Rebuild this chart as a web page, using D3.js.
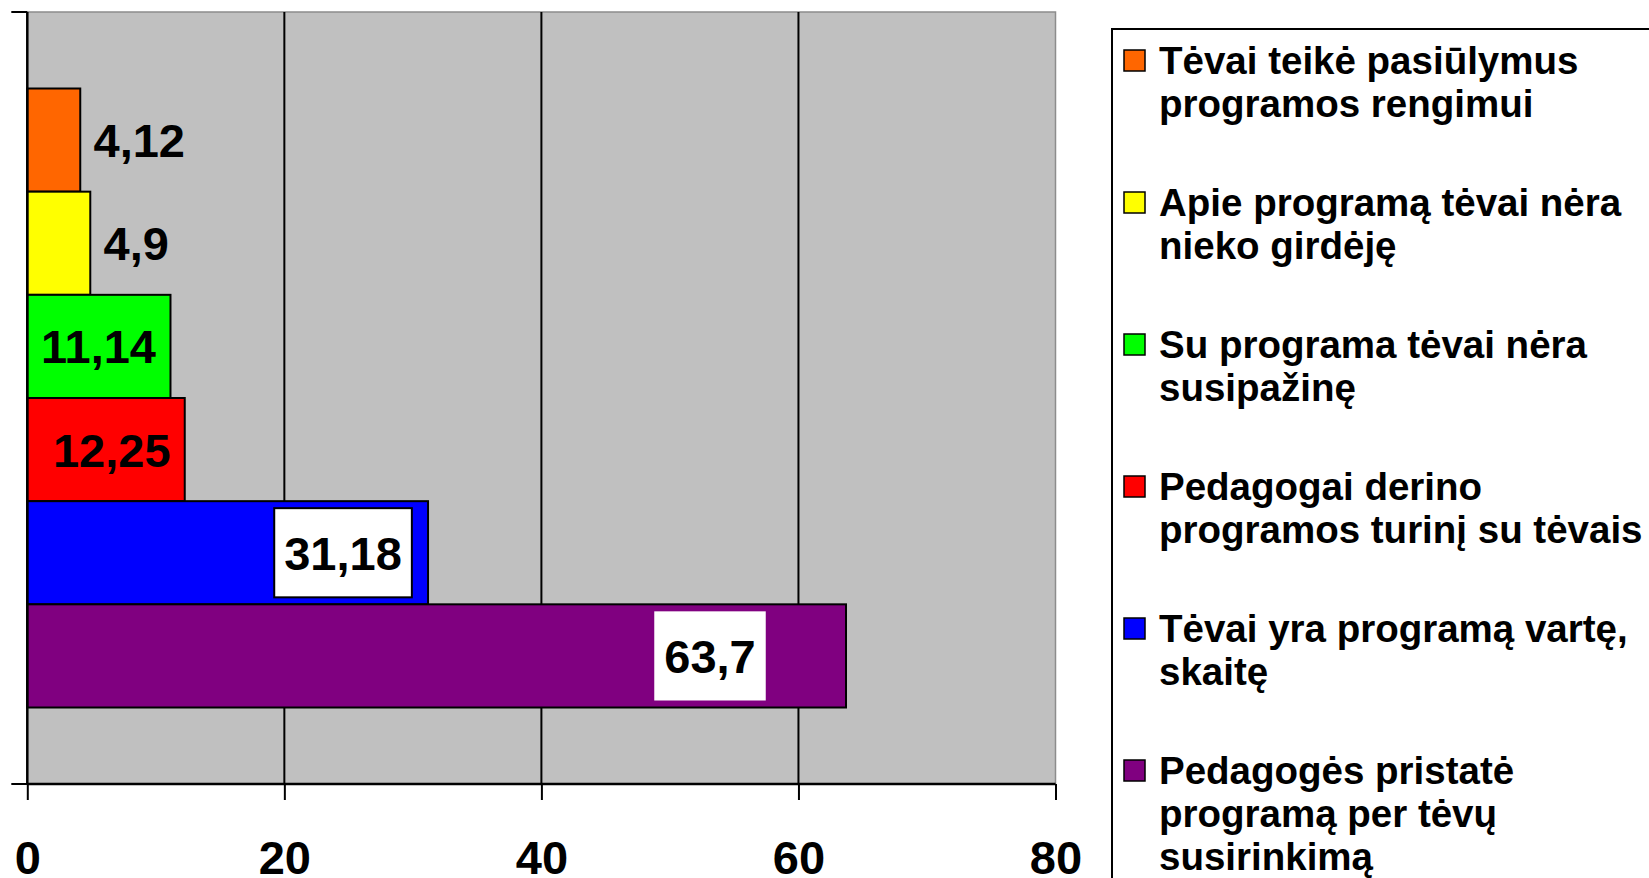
<!DOCTYPE html>
<html>
<head>
<meta charset="utf-8">
<script src="https://cdn.jsdelivr.net/npm/d3@7"></script>
<style>
  body { margin: 0; background: #fff; }
  text { font-family: "Liberation Sans", Arial, sans-serif; font-weight: bold; fill: #000; }
</style>
</head>
<body>
<svg id="chart" width="1649" height="878"></svg>
<script>
// Data
const categories = [
    ["Tėvai teikė pasiūlymus", "programos rengimui"],
    ["Apie programą tėvai nėra", "nieko girdėję"],
    ["Su programa tėvai nėra", "susipažinę"],
    ["Pedagogai derino", "programos turinį su tėvais"],
    ["Tėvai yra programą vartę,", "skaitę"],
    ["Pedagogės pristatė", "programą per tėvų", "susirinkimą"]
];
const values = [4.12, 4.9, 11.14, 12.25, 31.18, 63.7];
const colors = ["#ff6600", "#ffff00", "#00ff00", "#ff0000", "#0000ff", "#800080"];
const xTicks = [0, 20, 40, 60, 80];

// label placement (center offset from bar end, px) and box style
const labelDx = [59, 46, -72, -73, -85, -136];
const labelBox = [null, null, null, null, "border", "plain"];

const fmt = d3.formatLocale({ decimal: ",", thousands: " ", grouping: [3], currency: ["", ""] }).format("~f");

// Layout
const plot = { left: 27.3, right: 1055.5, top: 12, bottom: 784 };
const outerGap = 76.5;

const svg = d3.select("#chart");

const x = d3.scaleLinear()
    .domain([0, 80])
    .range([plot.left, plot.right]);

const y = d3.scaleBand()
    .domain(d3.range(values.length))
    .range([plot.top + outerGap, plot.bottom - outerGap])
    .padding(0);

// Plot background
svg.append("rect")
    .attr("x", plot.left)
    .attr("y", plot.top)
    .attr("width", plot.right - plot.left)
    .attr("height", plot.bottom - plot.top)
    .attr("fill", "#c0c0c0")
    .attr("stroke", "#8c8c8c")
    .attr("stroke-width", 1.5);

// Gridlines
svg.selectAll(".grid")
    .data(xTicks.filter(d => d > 0 && d < 80))
    .enter()
    .append("line")
    .attr("class", "grid")
    .attr("x1", d => x(d))
    .attr("x2", d => x(d))
    .attr("y1", plot.top)
    .attr("y2", plot.bottom)
    .attr("stroke", "#000")
    .attr("stroke-width", 2);

// Bars
svg.selectAll(".bar")
    .data(values)
    .enter()
    .append("rect")
    .attr("class", "bar")
    .attr("x", x(0))
    .attr("y", (d, i) => y(i))
    .attr("width", d => x(d) - x(0))
    .attr("height", y.bandwidth())
    .attr("fill", (d, i) => colors[i])
    .attr("stroke", "#000")
    .attr("stroke-width", 2);

// X axis
const xAxis = svg.append("g")
    .attr("transform", `translate(0,${plot.bottom})`)
    .call(d3.axisBottom(x).tickValues(xTicks).tickSize(16).tickPadding(40).tickFormat(d3.format("d")));
xAxis.select(".domain").attr("stroke", "#000").attr("stroke-width", 2.5).attr("d", `M${plot.left},0H${plot.right}`);
xAxis.selectAll(".tick line").attr("stroke", "#000").attr("stroke-width", 2);
xAxis.selectAll(".tick text")
    .attr("dy", null)
    .attr("y", 90)
    .style("font-size", "47px")
    .style("font-family", "'Liberation Sans', Arial, sans-serif")
    .style("font-weight", "bold")
    .attr("fill", "#000");

// Y axis line with ticks at band edges
svg.append("line")
    .attr("x1", plot.left).attr("x2", plot.left)
    .attr("y1", plot.top).attr("y2", plot.bottom)
    .attr("stroke", "#000").attr("stroke-width", 2.5);
svg.selectAll(".ytick")
    .data([plot.top, plot.bottom])
    .enter()
    .append("line")
    .attr("x1", plot.left - 16).attr("x2", plot.left)
    .attr("y1", d => d).attr("y2", d => d)
    .attr("stroke", "#000").attr("stroke-width", 2);

// Data labels
const labels = svg.selectAll(".lbl")
    .data(values)
    .enter()
    .append("g")
    .attr("class", "lbl")
    .attr("transform", (d, i) => `translate(${x(d) + labelDx[i]},${y(i) + y.bandwidth() / 2})`);

labels.each(function (d, i) {
    const g = d3.select(this);
    const t = g.append("text")
        .attr("text-anchor", "middle")
        .attr("dy", "0.36em")
        .style("font-size", "47px")
        .text(fmt(d));
    if (labelBox[i]) {
        const w = t.node().getBBox().width + 20;
        const h = y.bandwidth() - 14;
        g.insert("rect", "text")
            .attr("x", -w / 2)
            .attr("y", -h / 2)
            .attr("width", w)
            .attr("height", h)
            .attr("fill", "#fff")
            .attr("stroke", labelBox[i] === "border" ? "#000" : "none")
            .attr("stroke-width", 2);
    }
});

// Legend
const legend = { left: 1112, top: 29, swatchX: 1124, textX: 1159, firstBaseline: 74, itemStep: 142, lineStep: 43 };

svg.append("rect")
    .attr("x", legend.left)
    .attr("y", legend.top)
    .attr("width", 700)
    .attr("height", 900)
    .attr("fill", "#fff")
    .attr("stroke", "#000")
    .attr("stroke-width", 2);

const items = svg.selectAll(".legend-item")
    .data(categories)
    .enter()
    .append("g")
    .attr("class", "legend-item")
    .attr("transform", (d, i) => `translate(0,${legend.firstBaseline + i * legend.itemStep})`);

items.append("rect")
    .attr("x", legend.swatchX)
    .attr("y", -24)
    .attr("width", 21)
    .attr("height", 21)
    .attr("fill", (d, i) => colors[i])
    .attr("stroke", "#000")
    .attr("stroke-width", 1.5);

items.each(function (lines) {
    const t = d3.select(this).append("text")
        .attr("x", legend.textX)
        .style("font-size", "38.5px");
    lines.forEach((line, k) => {
        t.append("tspan")
            .attr("x", legend.textX)
            .attr("y", k * legend.lineStep)
            .text(line);
    });
});
</script>
</body>
</html>
